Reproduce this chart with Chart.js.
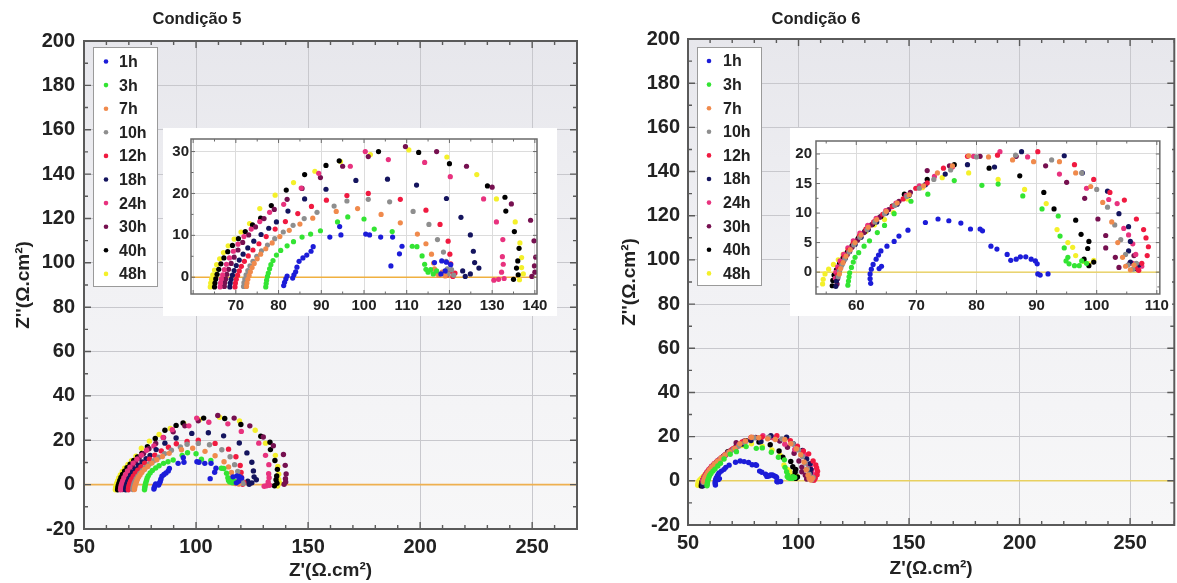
<!DOCTYPE html>
<html><head><meta charset="utf-8">
<script src="https://cdn.jsdelivr.net/npm/chart.js@4.4.1/dist/chart.umd.min.js"></script>
<style>
html,body{margin:0;padding:0;background:#fff;width:1177px;height:583px;overflow:hidden;}
canvas{position:absolute;}
</style></head><body>
<canvas id="m5" width="590" height="583" style="left:0;top:0"></canvas>
<canvas id="m6" width="587" height="583" style="left:590px;top:0"></canvas>
<canvas id="i5" width="394" height="188" style="left:163px;top:128px"></canvas>
<canvas id="i6" width="382" height="188" style="left:790px;top:128px"></canvas>
<script>
// ---------- DATA ----------
const seriesLabels = ['1h','3h','7h','10h','12h','18h','24h','30h','40h','48h'];
const panelTitles = ['Condição 5','Condição 6'];
const xTitle = "Z'(Ω.cm²)";
const yTitle = "Z''(Ω.cm²)";

// Condição 5  [Z', Z'']
const c5_1h = [[81.2,-2.0],[81.4,-1.2],[81.7,-0.4],[82.0,0.3],[83.3,-0.2],[83.6,0.6],[84.0,1.3],[84.3,2.4],[84.8,3.8],[85.7,4.6],[86.6,5.3],[87.6,6.2],[88.1,7.3],[92.0,9.6],[94.3,12.1],[94.6,10.1],[100.4,10.3],[101.3,10.1],[103.9,9.6],[106.7,9.6],[108.9,7.4],[108.3,5.6],[106.3,2.7],[116.5,3.5],[118.2,3.9],[119.3,3.6],[120.3,3.0],[119.0,1.5],[118.0,0.8]];
const c5_3h = [[77.0,-2.3],[77.1,-1.5],[77.2,-0.7],[77.4,0.2],[77.6,1.0],[77.9,2.0],[78.2,3.0],[78.7,4.0],[79.5,5.3],[80.5,6.4],[82.0,7.5],[83.5,8.5],[85.5,9.6],[87.5,10.3],[89.8,11.1],[93.8,13.2],[96.2,14.4],[100.0,13.9],[102.4,11.5],[106.6,10.9],[111.3,7.4],[112.4,7.3],[113.6,5.1],[114.2,3.1],[114.5,1.9],[115.0,1.2],[115.6,1.8],[116.2,0.8],[117.0,1.5]];
const c5_7h = [[72.5,-2.2],[72.6,-1.4],[72.8,-0.5],[73.1,0.4],[73.4,1.3],[73.8,2.3],[74.3,3.3],[75.0,4.4],[75.8,5.5],[77.0,6.8],[78.5,8.2],[80.3,9.7],[82.5,11.2],[85.0,12.7],[88.0,14.1],[93.5,15.7],[98.5,16.4],[104.0,15.0],[108.5,13.0],[112.5,10.3],[114.5,8.0],[115.8,5.5],[116.3,3.4],[116.5,2.0],[116.8,1.0],[117.5,0.5],[118.3,1.2],[119.0,0.3]];
const c5_10h = [[71.8,-2.2],[71.9,-1.3],[72.1,-0.4],[72.4,0.6],[72.8,1.6],[73.3,2.7],[74.0,3.8],[74.9,5.0],[76.0,6.3],[77.4,7.7],[79.1,9.2],[81.1,10.8],[83.4,12.4],[86.0,14.0],[89.0,15.5],[93.0,17.0],[96.0,18.2],[101.0,18.6],[106.0,18.0],[111.5,15.7],[115.2,12.6],[117.2,9.0],[118.6,6.0],[119.2,3.8],[119.5,2.0],[119.7,0.8],[120.5,1.8],[121.0,0.5]];
const c5_12h = [[69.8,-2.3],[69.9,-1.4],[70.1,-0.5],[70.4,0.5],[70.8,1.5],[71.3,2.6],[72.0,3.8],[72.9,5.1],[74.0,6.5],[75.4,8.0],[77.1,9.7],[79.2,11.5],[81.6,13.3],[84.5,15.2],[87.7,16.9],[91.2,18.4],[96.0,19.5],[101.0,20.0],[108.5,18.6],[114.5,16.0],[117.8,12.6],[119.7,8.6],[120.1,5.5],[120.3,3.2],[120.2,1.4],[119.4,0.5],[120.8,0.2],[121.3,1.0]];
const c5_18h = [[68.6,-2.3],[68.7,-1.4],[68.9,-0.5],[69.2,0.5],[69.6,1.6],[70.1,2.8],[70.8,4.1],[71.7,5.5],[72.8,7.0],[74.2,8.6],[75.9,10.2],[77.7,11.7],[79.5,13.2],[82.2,15.8],[86.1,18.7],[91.1,21.0],[98.1,23.1],[105.5,23.4],[112.3,22.0],[119.3,18.8],[122.7,14.3],[124.9,10.1],[125.6,6.2],[125.9,3.5],[126.9,2.2],[124.9,0.8],[123.7,0.2],[123.1,1.5]];
const c5_24h = [[66.3,-2.3],[66.4,-1.4],[66.6,-0.4],[66.9,0.6],[67.3,1.8],[67.8,3.1],[68.5,4.6],[69.4,6.2],[70.5,7.9],[71.9,9.7],[73.6,11.5],[75.6,13.3],[77.9,15.5],[81.2,17.4],[85.3,21.3],[89.4,24.8],[96.8,26.5],[100.3,30.0],[105.7,28.1],[114.2,27.4],[120.2,24.0],[128.0,18.7],[131.0,13.2],[132.5,9.0],[132.4,4.9],[132.6,3.1],[132.2,1.2],[131.5,-0.5],[130.4,-0.7],[132.8,-0.3]];
const c5_30h = [[67.3,-2.2],[67.4,-1.3],[67.6,-0.4],[67.9,0.7],[68.3,1.9],[68.9,3.3],[69.6,4.8],[70.5,6.5],[71.6,8.3],[73.0,10.1],[74.6,12.0],[76.6,14.0],[79.0,16.2],[82.0,18.6],[85.5,21.2],[89.8,23.8],[95.0,26.5],[101.0,28.8],[109.7,31.2],[117.0,30.0],[124.0,26.5],[130.0,21.5],[134.5,17.5],[139.0,13.6],[139.8,8.7],[140.2,4.8],[139.9,2.7],[140.0,1.2],[139.3,0.2]];
const c5_40h = [[65.0,-2.3],[65.1,-1.4],[65.3,-0.4],[65.6,0.7],[66.0,1.9],[66.5,3.2],[67.2,4.6],[68.1,6.1],[69.2,7.6],[70.6,9.2],[72.2,10.9],[73.9,12.5],[75.8,14.1],[78.3,17.1],[81.8,20.8],[86.1,24.5],[91.1,26.7],[94.2,27.8],[103.4,30.0],[112.8,29.8],[120.0,27.1],[128.9,21.8],[133.0,19.1],[133.2,15.8],[135.2,10.9],[136.3,6.9],[136.0,3.9],[135.7,2.2],[136.1,0.6],[135.0,-0.5]];
const c5_48h = [[64.0,-2.3],[64.1,-1.4],[64.3,-0.5],[64.6,0.6],[65.0,1.7],[65.5,3.0],[66.2,4.4],[67.1,5.9],[68.2,7.5],[69.6,9.1],[71.2,10.8],[73.2,12.8],[75.6,16.4],[79.2,19.6],[83.5,22.6],[88.5,25.3],[94.5,27.6],[101.5,29.3],[110.5,30.4],[119.4,28.7],[126.4,24.5],[131.0,18.7],[135.4,13.2],[136.5,8.2],[136.9,4.7],[136.9,2.3],[137.3,0.8],[136.4,-0.6]];

// Condição 6  [Z', Z'']
const c6_1h = [[62.4,-1.9],[62.3,-1.1],[62.3,-0.3],[62.5,0.5],[62.8,1.3],[63.3,2.2],[63.7,2.9],[64.1,3.6],[64.2,1.0],[63.8,0.6],[65.1,4.4],[66.3,5.2],[67.1,6.1],[68.6,7.1],[71.5,8.4],[73.6,9.0],[75.4,8.7],[77.4,8.3],[79.0,7.3],[80.6,7.3],[81.0,7.0],[82.4,4.4],[83.4,3.9],[85.1,3.0],[85.7,2.0],[86.6,2.2],[87.3,2.6],[88.2,2.6],[89.1,2.2],[89.8,1.9],[90.1,1.4],[90.2,-0.3],[90.6,-0.5],[91.9,-0.3]];
const c6_3h = [[58.6,-2.2],[58.7,-1.5],[58.8,-0.8],[58.9,-0.1],[59.2,0.8],[59.5,1.7],[59.8,2.5],[60.4,3.3],[61.3,4.4],[62.2,5.3],[63.5,6.7],[64.7,7.9],[66.3,9.9],[69.1,12.0],[71.9,13.2],[76.3,15.5],[80.9,14.7],[83.6,14.9],[87.7,12.9],[90.9,10.7],[93.6,9.5],[93.9,6.1],[94.6,4.1],[95.2,2.5],[94.9,1.9],[95.4,1.4],[96.3,1.1],[97.1,1.1],[97.5,1.9],[98.3,1.5]];
const c6_7h = [[57.2,-0.3],[57.4,0.6],[57.8,1.6],[58.3,2.7],[59.0,3.8],[59.8,5.0],[60.8,6.3],[62.0,7.6],[63.4,8.9],[65.0,10.3],[66.8,11.7],[68.8,13.1],[71.2,14.6],[73.5,16.8],[76.0,18.0],[78.7,19.7],[82.0,19.5],[86.0,19.0],[89.5,18.7],[93.8,18.7],[96.5,16.8],[99.0,14.5],[101.0,11.8],[102.5,8.5],[103.5,5.0],[104.3,2.5],[104.8,1.0],[105.6,0.4],[106.2,1.2]];
const c6_10h = [[57.0,-0.8],[57.2,0.2],[57.6,1.2],[58.1,2.2],[58.8,3.4],[59.6,4.6],[60.6,5.9],[61.8,7.2],[63.1,8.5],[64.7,9.9],[66.4,11.3],[68.4,12.8],[70.5,14.2],[72.9,15.7],[75.7,17.3],[80.0,19.5],[86.5,19.8],[92.5,19.0],[97.5,16.8],[100.0,14.0],[101.8,11.0],[103.0,8.0],[104.0,5.5],[104.8,3.0],[105.2,1.2],[106.0,0.5],[106.6,1.5]];
const c6_12h = [[56.9,-0.5],[57.1,0.5],[57.5,1.5],[58.0,2.6],[58.7,3.7],[59.5,4.9],[60.5,6.1],[61.6,7.3],[62.9,8.5],[64.4,9.8],[66.0,11.1],[67.8,12.4],[69.9,14.2],[71.8,15.1],[74.5,17.6],[78.5,19.6],[83.5,19.8],[90.2,20.4],[96.3,18.2],[99.5,15.7],[102.2,13.5],[104.6,12.2],[106.6,9.0],[107.8,7.2],[108.2,5.8],[108.6,4.3],[108.4,2.8],[107.5,1.5],[106.4,0.8],[107.0,0.3]];
const c6_18h = [[56.6,-2.4],[56.7,-1.5],[56.9,-0.6],[57.2,0.3],[57.6,1.3],[58.2,2.4],[58.9,3.5],[59.8,4.7],[60.8,5.9],[62.0,7.2],[63.4,8.5],[65.0,10.0],[66.8,11.5],[68.8,13.0],[71.5,14.8],[74.8,16.6],[78.5,18.2],[83.0,17.8],[87.5,20.4],[94.6,19.7],[97.6,16.8],[101.8,13.7],[103.7,9.9],[105.3,7.7],[105.6,5.2],[105.3,3.6],[105.6,1.7],[106.2,0.6],[107.0,1.2]];
const c6_24h = [[56.5,-1.0],[56.6,0.0],[56.9,0.9],[57.3,1.9],[57.9,3.0],[58.6,4.1],[59.5,5.3],[60.6,6.6],[61.9,7.9],[63.3,9.1],[64.9,10.4],[66.6,11.7],[68.3,13.0],[70.5,14.6],[73.0,16.2],[76.0,17.8],[79.5,19.6],[83.9,20.4],[88.5,19.5],[93.8,16.6],[98.3,14.2],[102.0,12.3],[103.4,11.6],[104.5,7.4],[105.3,6.3],[106.0,4.8],[106.5,3.0],[106.0,1.5],[106.8,0.6],[107.5,1.0]];
const c6_30h = [[56.8,-2.0],[56.9,-1.1],[57.1,-0.2],[57.4,0.8],[57.9,1.9],[58.5,3.0],[59.3,4.2],[60.2,5.4],[61.3,6.7],[62.5,8.0],[63.9,9.3],[65.4,10.6],[67.1,12.0],[69.0,13.5],[71.8,17.2],[75.5,18.0],[80.6,19.6],[86.6,19.6],[91.5,18.0],[95.0,15.2],[98.0,12.5],[100.2,9.0],[101.5,6.2],[101.5,4.1],[103.1,2.5],[103.7,0.8],[105.5,1.5],[106.2,2.8],[106.8,0.5]];
const c6_40h = [[56.0,-2.3],[56.1,-1.4],[56.3,-0.5],[56.7,0.4],[57.2,1.4],[57.8,2.4],[58.5,3.4],[59.3,4.5],[60.3,5.7],[61.4,6.9],[62.7,8.1],[64.1,9.4],[66.0,11.2],[68.0,13.2],[71.8,15.7],[76.3,18.2],[82.1,17.6],[87.2,16.3],[91.2,13.5],[92.9,10.7],[96.5,8.8],[97.4,6.4],[98.7,5.2],[98.5,4.0],[97.9,2.2],[98.7,1.1],[99.5,1.7]];
const c6_48h = [[54.4,-2.0],[54.5,-1.2],[54.8,-0.3],[55.4,0.5],[56.2,1.3],[57.0,2.1],[57.8,3.0],[58.6,3.9],[59.5,4.8],[60.5,5.8],[61.6,6.9],[63.0,8.0],[64.7,8.9],[66.2,10.1],[68.5,12.4],[71.0,14.3],[74.3,16.0],[78.7,16.8],[83.6,15.7],[88.0,14.0],[91.6,11.6],[93.4,7.2],[95.2,5.0],[96.0,4.2],[96.5,2.8],[97.9,1.8],[98.7,1.4],[99.5,2.0]];

const cond5 = [c5_1h,c5_3h,c5_7h,c5_10h,c5_12h,c5_18h,c5_24h,c5_30h,c5_40h,c5_48h];
const cond6 = [c6_1h,c6_3h,c6_7h,c6_10h,c6_12h,c6_18h,c6_24h,c6_30h,c6_40h,c6_48h];

// ---------- STYLE ----------
const seriesColors = ['#1c1cd8','#33e433','#f08a4c','#8e8e8e','#f01a40','#14145e','#e8327e','#761050','#000000','#f4f02a'];
const FONT = "'Liberation Sans', Arial, sans-serif";

function makeDatasets(series, r){
  return series.map((pts,i)=>({
    label: seriesLabels[i],
    data: pts.map(p=>({x:p[0],y:p[1]})),
    backgroundColor: seriesColors[i],
    borderColor: seriesColors[i],
    pointRadius: r, pointBorderWidth: 0, pointHoverRadius: r, showLine:false
  }));
}

const decor = {
  id:'decor',
  beforeDraw(chart, args, o){
    const {ctx, chartArea:a} = chart;
    ctx.save();
    ctx.fillStyle = '#ffffff';
    ctx.fillRect(0,0,chart.width,chart.height);
    if (o.gradient){
      const g = ctx.createLinearGradient(0,a.top,0,a.bottom);
      g.addColorStop(0,'#e7e7ec'); g.addColorStop(0.5,'#f1f1f4'); g.addColorStop(1,'#f7f7f8');
      ctx.fillStyle = g;
    } else ctx.fillStyle = '#ffffff';
    ctx.fillRect(a.left,a.top,a.width,a.height);
    ctx.restore();
  },
  beforeDatasetsDraw(chart, args, o){
    const {ctx, chartArea:a, scales:{y}} = chart;
    const py = y.getPixelForValue(0);
    ctx.save(); ctx.strokeStyle=o.zeroColor; ctx.lineWidth=o.zeroWidth;
    ctx.beginPath(); ctx.moveTo(a.left,py); ctx.lineTo(a.right,py); ctx.stroke(); ctx.restore();
  },
  afterDraw(chart, args, o){
    const {ctx, chartArea:a, scales:{x,y}} = chart;
    ctx.save();
    ctx.strokeStyle=o.frameColor; ctx.lineWidth=o.tickWidth;
    const eps=1e-6;
    const tk = (v0, v1, step, major) => { const out=[]; let s=Math.ceil(v0/step-eps)*step; for(let v=s; v<=v1+eps; v+=step){ out.push([v, Math.abs(v/major-Math.round(v/major))<1e-4]); } return out; };
    ctx.beginPath();
    tk(x.min,x.max,o.xMinor,o.xMajor).forEach(([v,m])=>{ const px=x.getPixelForValue(v); const L=m?o.majLen:o.minLen;
      ctx.moveTo(px,a.bottom); ctx.lineTo(px,a.bottom-L); ctx.moveTo(px,a.top); ctx.lineTo(px,a.top+L); });
    tk(y.min,y.max,o.yMinor,o.yMajor).forEach(([v,m])=>{ const py=y.getPixelForValue(v); const L=m?o.majLen:o.minLen;
      ctx.moveTo(a.left,py); ctx.lineTo(a.left+L,py); ctx.moveTo(a.right,py); ctx.lineTo(a.right-L,py); });
    ctx.stroke();
    ctx.lineWidth=o.frameWidth;
    ctx.strokeRect(a.left,a.top,a.width,a.height);
    ctx.restore();
    if (o.legend){
      const L=o.legend; ctx.save();
      ctx.fillStyle='#ffffff'; ctx.fillRect(L.x,L.y,L.w,L.h);
      ctx.strokeStyle='#9a9a9a'; ctx.lineWidth=1; ctx.strokeRect(L.x+0.5,L.y+0.5,L.w,L.h);
      ctx.font = 'bold 16px '+FONT; ctx.textBaseline='middle'; ctx.textAlign='left';
      chart.data.datasets.forEach((d,i)=>{
        const cy = L.first + i*L.step;
        ctx.fillStyle = d.backgroundColor; ctx.beginPath(); ctx.arc(L.x+L.mx, cy, 2.3, 0, Math.PI*2); ctx.fill();
        ctx.fillStyle = '#222'; ctx.fillText(d.label, L.x+L.tx, cy+1);
      });
      ctx.restore();
    }
    if (o.title){
      ctx.save(); ctx.font='bold 16.5px '+FONT; ctx.fillStyle='#222'; ctx.textAlign='center'; ctx.textBaseline='middle';
      ctx.fillText(o.title.text, o.title.x, o.title.y); ctx.restore();
    }
  }
};

function mainChart(id, series, cfg){
  return new Chart(document.getElementById(id), {
    type:'scatter',
    data:{datasets: makeDatasets(series, 2.7)},
    options:{
      responsive:false, animation:false, devicePixelRatio:1,
      layout:{padding:{left:0, top:cfg.top, right:cfg.right, bottom:0}},
      plugins:{legend:{display:false}, tooltip:{enabled:false},
        decor:{gradient:true, zeroColor:cfg.zero, zeroWidth:1.6, frameColor:'#5a5a5a', frameWidth:2, tickWidth:1.4,
          majLen:7, minLen:4, xMinor:10, xMajor:50, yMinor:10, yMajor:20,
          legend:cfg.legend, title:cfg.title}},
      scales:{
        x:{type:'linear', min:50, max:270, afterFit:s=>{s.height=cfg.xh;},
          ticks:{stepSize:50, includeBounds:false, padding:6, color:'#222', font:{family:FONT, size:20, weight:'bold'}},
          grid:{color:'#c8c8cd', lineWidth:1, drawTicks:false}, border:{display:false},
          title:{display:true, text:xTitle, color:'#222', font:{family:FONT, size:19, weight:'bold'}, padding:{top:0,bottom:cfg.xtp}}},
        y:{type:'linear', min:-20, max:200, afterFit:s=>{s.width=cfg.yw;},
          ticks:{stepSize:20, includeBounds:false, padding:cfg.ytpad, color:'#222', font:{family:FONT, size:20, weight:'bold'}},
          grid:{color:'#c8c8cd', lineWidth:1, drawTicks:false}, border:{display:false},
          title:{display:true, text:yTitle, color:'#222', font:{family:FONT, size:19, weight:'bold'}, padding:{top:cfg.ytp,bottom:0}}}
      }
    },
    plugins:[decor]
  });
}

function insetChart(id, series, cfg){
  return new Chart(document.getElementById(id), {
    type:'scatter',
    data:{datasets: makeDatasets(series, 2.6)},
    options:{
      responsive:false, animation:false, devicePixelRatio:1,
      layout:{padding:{left:0, top:cfg.top, right:cfg.right, bottom:0}},
      plugins:{legend:{display:false}, tooltip:{enabled:false},
        decor:{gradient:false, zeroColor:cfg.zero, zeroWidth:1.3, frameColor:'#6a6a6a', frameWidth:1.5, tickWidth:1,
          majLen:4, minLen:2.5, xMinor:5, xMajor:10, yMinor:cfg.ystep/2, yMajor:cfg.ystep}},
      scales:{
        x:{type:'linear', min:cfg.xmin, max:cfg.xmax, afterFit:s=>{s.height=22;},
          ticks:{stepSize:10, includeBounds:false, padding:3, color:'#222', font:{family:FONT, size:15, weight:'bold'},
            callback:v=> v < cfg.xFirstLabel ? '' : v},
          grid:{color:'#dcdcdc', lineWidth:1, drawTicks:false}, border:{display:false}},
        y:{type:'linear', min:cfg.ymin, max:cfg.ymax, afterFit:s=>{s.width=cfg.yw;},
          ticks:{stepSize:cfg.ystep, includeBounds:false, padding:cfg.ypad, color:'#222', font:{family:FONT, size:15, weight:'bold'}},
          grid:{color:'#dcdcdc', lineWidth:1, drawTicks:false}, border:{display:false}}
      }
    },
    plugins:[decor]
  });
}

mainChart('m5', cond5, {top:41, right:13, xh:54, yw:84, ytpad:9, xtp:1, ytp:12, zero:'#eeb050',
  legend:{x:93, y:47, w:64, h:239, first:61.5, step:23.6, mx:13, tx:26},
  title:{text:panelTitles[0], x:197, y:19}});
mainChart('m6', cond6, {top:39, right:2, xh:58, yw:98, ytpad:8, xtp:3, ytp:28, zero:'#e8d060',
  legend:{x:107, y:47, w:64, h:238, first:61, step:23.6, mx:12, tx:26},
  title:{text:panelTitles[1], x:226, y:19}});
insetChart('i5', cond5, {top:9, right:20, yw:28, ypad:2, xmin:59.5, xmax:140.5, xFirstLabel:65, ymin:-4, ymax:33, ystep:10, zero:'#f0b040'});
insetChart('i6', cond6, {top:10, right:9, yw:26, ypad:4, xmin:53.3, xmax:110.5, xFirstLabel:55, ymin:-3.7, ymax:22.2, ystep:5, zero:'#ecd050'});
</script>
</body></html>
